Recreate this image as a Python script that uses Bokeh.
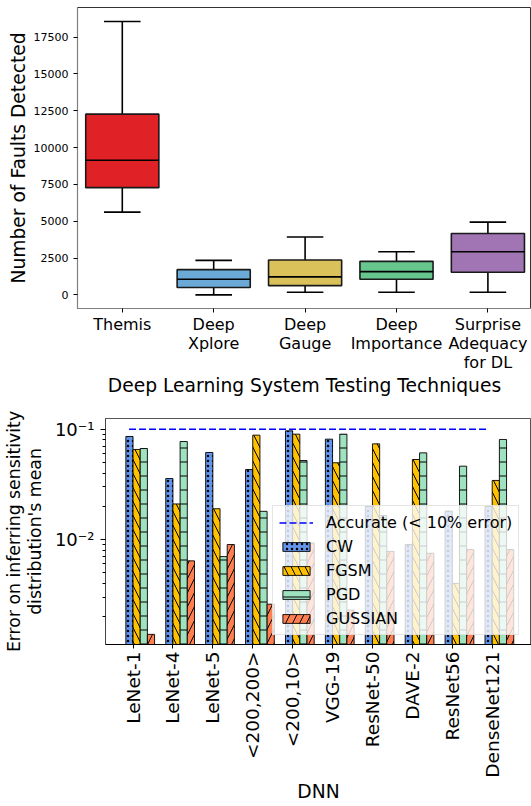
import numpy as np
from bokeh.plotting import figure
from bokeh.models import Range1d, FixedTicker, Legend, LegendItem, ColumnDataSource
from bokeh.embed import file_html
from bokeh.resources import INLINE

# ---------------- data: top chart (box plot) ----------------
techniques = ["Themis", "Deep\nXplore", "Deep\nGauge", "Deep\nImportance", "Surprise\nAdequacy\nfor DL"]
whisker_low = [5617, 0, 176, 176, 176]
q1 = [7280, 494, 629, 1056, 1530]
median = [9136, 1056, 1218, 1577, 2930]
q3 = [12270, 1712, 2368, 2274, 4169]
whisker_high = [18560, 2341, 3925, 2930, 4940]
box_colors = ["#E02126", "#6BAAD6", "#DBC15A", "#66C68E", "#A175B3"]
top_yticks = [0, 2500, 5000, 7500, 10000, 12500, 15000, 17500]

# ---------------- data: bottom chart (grouped log bars) ----------------
dnns = ["LeNet-1", "LeNet-4", "LeNet-5", "<200,200>", "<200,10>", "VGG-19",
        "ResNet-50", "DAVE-2", "ResNet56", "DenseNet121"]
cw = [0.0859, 0.0357, 0.0615, 0.0431, 0.0966, 0.0812, 0.0199, 0.0090, 0.0181, 0.0199]
fgsm = [0.0655, 0.0210, 0.0190, 0.0883, 0.0901, 0.0496, 0.0736, 0.0531, 0.0040, 0.0343]
pgd = [0.0668, 0.0773, 0.0070, 0.0180, 0.0520, 0.0901, 0.0165, 0.0610, 0.0462, 0.0807]
gussian = [0.00138, 0.0064, 0.0090, 0.00259, 0.0093, 0.00229, 0.0078, 0.0075, 0.0081, 0.0081]
accurate_x = [-0.1, 8.9]
accurate_y = [0.1, 0.1]
series_names = ["CW", "FGSM", "PGD", "GUSSIAN"]
series_colors = ["#6495ED", "#FFC000", "#9FE2BF", "#FF7F50"]
series_hatch = ["dot", "left_diagonal_line", "horizontal_line", "right_diagonal_line"]
bottom_major = [0.01, 0.1]
bottom_minor = [0.002, 0.003, 0.004, 0.005, 0.006, 0.007, 0.008, 0.009,
                0.02, 0.03, 0.04, 0.05, 0.06, 0.07, 0.08, 0.09]

FONT = "DejaVu Sans"

# ================= top figure =================
p1 = figure(width=531, height=398, x_range=Range1d(-0.49, 4.477), y_range=Range1d(-927, 19510),
            output_backend="svg", toolbar_location=None,
            min_border_left=77, min_border_right=0, min_border_top=7, min_border_bottom=89)
p1.xgrid.visible = False
p1.ygrid.visible = False
p1.outline_line_color = "#333333"
p1.background_fill_color = "white"

xs = list(range(len(techniques)))
src = ColumnDataSource(dict(
    x=xs, lo=whisker_low, q1=q1, med=median, q3=q3, hi=whisker_high, color=box_colors,
    x0=[x - 0.4 for x in xs], x1=[x + 0.4 for x in xs],
    c0=[x - 0.2 for x in xs], c1=[x + 0.2 for x in xs],
))
p1.segment(x0="x", x1="x", y0="q3", y1="hi", source=src, line_color="black", line_width=1.6)
p1.segment(x0="x", x1="x", y0="lo", y1="q1", source=src, line_color="black", line_width=1.6)
p1.segment(x0="c0", x1="c1", y0="hi", y1="hi", source=src, line_color="black", line_width=1.6)
p1.segment(x0="c0", x1="c1", y0="lo", y1="lo", source=src, line_color="black", line_width=1.6)
p1.vbar(x="x", width=0.8, bottom="q1", top="q3", source=src, fill_color="color",
        line_color="#1a1a1a", line_width=1.6)
p1.segment(x0="x0", x1="x1", y0="med", y1="med", source=src, line_color="black", line_width=1.6)

p1.xaxis.ticker = FixedTicker(ticks=xs)
p1.xaxis.major_label_overrides = {i: t for i, t in enumerate(techniques)}
p1.yaxis.ticker = FixedTicker(ticks=top_yticks)
p1.xaxis.axis_label = "Deep Learning System Testing Techniques"
p1.yaxis.axis_label = "Number of Faults Detected"
for ax in (p1.xaxis[0], p1.yaxis[0]):
    ax.axis_line_color = "#808080"
    ax.axis_line_width = 1.2
    ax.major_tick_in = 0
    ax.major_tick_out = 4
    ax.major_tick_line_color = "black"
    ax.minor_tick_in = 0
    ax.minor_tick_out = 0
    ax.axis_label_text_font = FONT
    ax.axis_label_text_font_style = "normal"
    ax.axis_label_text_font_size = "18.7px"
    ax.axis_label_text_color = "black"
    ax.major_label_text_font = FONT
    ax.major_label_text_color = "black"
p1.yaxis.major_label_text_font_size = "11px"
p1.yaxis.major_label_standoff = 5
p1.yaxis.axis_label_standoff = 2
p1.xaxis.major_label_text_font_size = "16px"
p1.xaxis.major_label_text_line_height = 1.0
p1.xaxis.major_label_standoff = 2
p1.xaxis.axis_label_standoff = 0

# ================= bottom figure =================
p2 = figure(width=531, height=408, x_range=Range1d(-0.69, 9.985), y_range=Range1d(0.001117, 0.125),
            y_axis_type="log", output_backend="svg", toolbar_location=None,
            min_border_left=104, min_border_right=0, min_border_top=20, min_border_bottom=162)
p2.xgrid.visible = False
p2.ygrid.visible = False
p2.outline_line_color = "#555555"

w = 0.18
xd = np.arange(len(dnns))
acc = p2.line(accurate_x, accurate_y, line_color="#0000FF", line_width=1.5, line_dash="7 3")
bar_renderers = []
for k, (vals, col, hat) in enumerate(zip([cw, fgsm, pgd, gussian], series_colors, series_hatch)):
    r = p2.vbar(x=xd + (k - 0.5) * w, width=w, top=vals, bottom=1e-4,
                fill_color=col, line_color="black", line_width=0.9,
                hatch_pattern=hat, hatch_color="black",
                hatch_scale=(5 if hat == "dot" else 14),
                hatch_weight=(0.7 if hat == "dot" else 1.0))
    bar_renderers.append(r)

legend = Legend(items=[LegendItem(label="Accurate (< 10% error)", renderers=[acc])] +
                [LegendItem(label=n, renderers=[r]) for n, r in zip(series_names, bar_renderers)],
                location=(167, 9), orientation="vertical")
legend.background_fill_color = "white"
legend.background_fill_alpha = 0.8
legend.border_line_color = "#cccccc"
legend.border_line_width = 1
legend.label_text_font = FONT
legend.label_text_font_size = "16px"
legend.label_text_color = "black"
legend.glyph_width = 34
legend.glyph_height = 11
legend.label_standoff = 13
legend.label_height = 20
legend.padding = 6
legend.spacing = 4
legend.margin = 0
p2.add_layout(legend)

p2.xaxis.ticker = FixedTicker(ticks=list(range(len(dnns))))
p2.xaxis.major_label_overrides = {i: t for i, t in enumerate(dnns)}
p2.xaxis.major_label_orientation = np.pi / 2
p2.yaxis.ticker = FixedTicker(ticks=bottom_major, minor_ticks=bottom_minor)
p2.yaxis.major_label_overrides = {0.01: "10\u207b\u00b2", 0.1: "10\u207b\u00b9"}
p2.xaxis.axis_label = "DNN"
p2.yaxis.axis_label = "Error on inferring sensitivity\ndistribution's mean"
for ax in (p2.xaxis[0], p2.yaxis[0]):
    ax.major_tick_in = 0
    ax.major_tick_line_color = "black"
    ax.minor_tick_line_color = "black"
    ax.axis_label_text_font = FONT
    ax.axis_label_text_font_style = "normal"
    ax.axis_label_text_color = "black"
    ax.major_label_text_font = FONT
    ax.major_label_text_color = "black"
p2.xaxis.axis_line_color = "black"
p2.yaxis.axis_line_color = "#444444"
p2.xaxis.major_tick_out = 4
p2.xaxis.minor_tick_out = 0
p2.xaxis.major_label_text_font_size = "18.5px"
p2.xaxis.major_label_standoff = 3
p2.xaxis.axis_label_standoff = 0
p2.xaxis.axis_label_text_font_size = "18.7px"
p2.yaxis.major_tick_out = 5
p2.yaxis.minor_tick_out = 3
p2.yaxis.minor_tick_in = 0
p2.yaxis.major_label_text_font_size = "18px"
p2.yaxis.major_label_standoff = 6
p2.yaxis.axis_label_standoff = 7
p2.yaxis.axis_label_text_font_size = "17.3px"
p2.yaxis.axis_label_text_line_height = 1.05

open("out.html", "w").write(file_html([p1, p2], INLINE))
